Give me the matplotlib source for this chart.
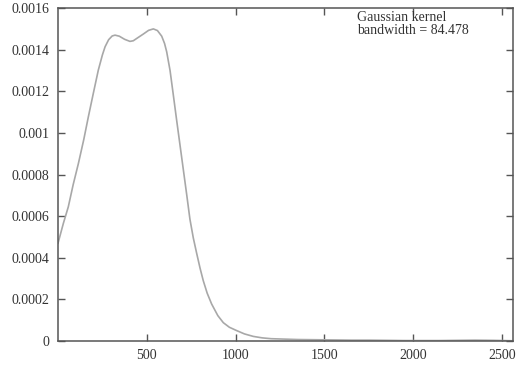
import matplotlib
matplotlib.use("Agg")
import matplotlib.pyplot as plt
from matplotlib.ticker import FuncFormatter

# Density curve values
x_vals = [0, 30, 58, 85, 115, 145, 171, 200, 227, 250, 265, 285, 305, 321, 345,
          375, 405, 424, 450, 480, 510, 537, 560, 584, 600, 612, 631, 649, 668,
          687, 706, 725, 743, 762, 781, 800, 818, 840, 865, 900, 931, 965, 1006,
          1050, 1100, 1150, 1200, 1275, 1350, 1450, 1550, 1650, 1750, 1850,
          1950, 2050, 2150, 2250, 2350, 2450, 2562]
y_vals = [0.000470, 0.000565, 0.000645, 0.000750, 0.000854, 0.000968, 0.001078,
          0.001195, 0.001302, 0.001375, 0.001414, 0.001448, 0.001466, 0.001470,
          0.001465, 0.001450, 0.001440, 0.001443, 0.001458, 0.001475, 0.001493,
          0.001500, 0.001492, 0.001465, 0.001430, 0.001390, 0.001300, 0.001185,
          0.001062, 0.000942, 0.000822, 0.000702, 0.000585, 0.000495, 0.000421,
          0.000350, 0.000290, 0.000230, 0.000178, 0.000122, 0.000088, 0.000066,
          0.000050, 0.000034, 0.000022, 0.000015, 0.000011, 0.000009, 0.000007,
          0.000006, 0.000005, 0.000004, 0.000004, 0.000003, 0.000002, 0.000002,
          0.000002, 0.000003, 0.000004, 0.000003, 0.000001]
x_ticks = [500, 1000, 1500, 2000, 2500]
y_ticks = [0, 0.0002, 0.0004, 0.0006, 0.0008, 0.001, 0.0012, 0.0014, 0.0016]
annotation = "Gaussian kernel\nbandwidth = 84.478"

plt.rcParams['font.family'] = ['Liberation Serif', 'DejaVu Serif']

fig = plt.figure(figsize=(5.25, 3.68), dpi=100)
ax = fig.add_axes([0.1105, 0.0734, 0.8665, 0.9046])
ax.plot(x_vals, y_vals, color='#a8a8a8', linewidth=1.2)

ax.set_xlim(0, 2562)
ax.set_ylim(0, 0.0016)
ax.set_xticks(x_ticks)
ax.set_yticks(y_ticks)
ax.yaxis.set_major_formatter(FuncFormatter(lambda v, p: '%g' % v))
ax.tick_params(direction='in', top=True, right=True, length=5, width=1,
               color='#555555', labelsize=10, labelcolor='#333333', pad=6)
for s in ax.spines.values():
    s.set_color('#555555')
    s.set_linewidth(1.1)

ax.text(357 / 525, 1 - 11 / 368, annotation, transform=fig.transFigure,
        ha='left', va='top', fontsize=10, color='#333333', linespacing=0.95)

fig.savefig('out.png', dpi=100)
